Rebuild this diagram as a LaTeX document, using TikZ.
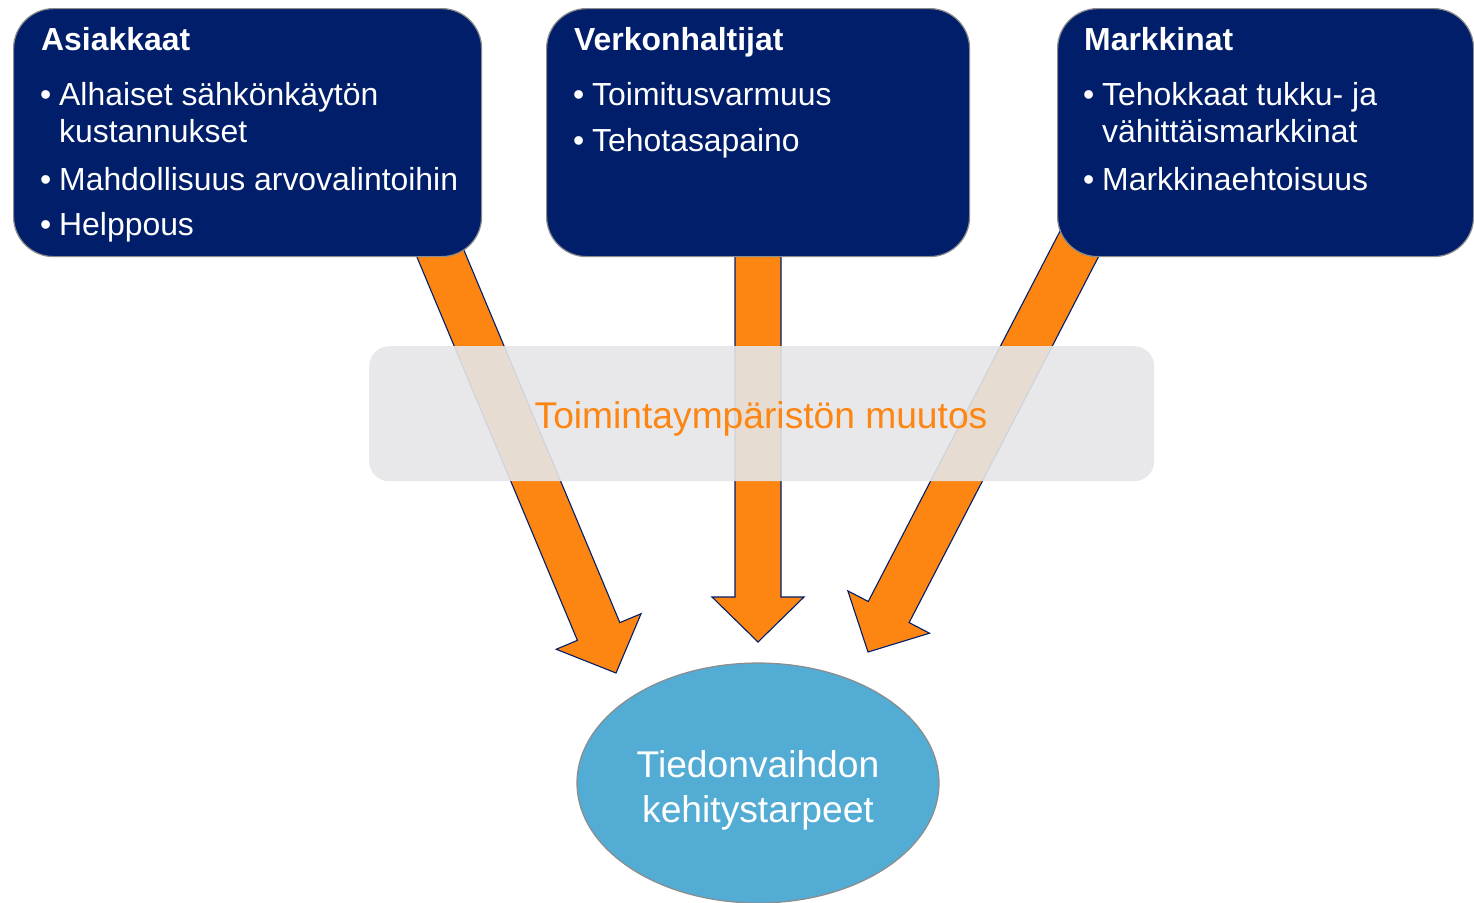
\documentclass[tikz,border=0pt]{standalone}
\usepackage{fontspec}
\setmainfont{Liberation Sans}
\usetikzlibrary{calc,shapes.geometric}

\definecolor{navy}{RGB}{1,30,106}
\definecolor{flowor}{RGB}{253,133,17}
\definecolor{bandgray}{RGB}{229,230,232}
\definecolor{sky}{RGB}{82,172,212}
\definecolor{edgegray}{RGB}{140,140,140}

\newcommand\boxfont{\fontsize{31.9pt}{38pt}\selectfont}
\newcommand\bigfont{\fontsize{37.2pt}{44pt}\selectfont}

% block arrow from #1 (start of shaft centre line) to #2 (tip)
\newcommand\blockarrow[2]{%
  \coordinate (hb) at ($(#2)!45pt!(#1)$);
  \draw[flow] ($(#1)!23pt!90:(#2)$) -- ($(hb)!23pt!90:(#2)$)
    -- ($(hb)!46pt!90:(#2)$) -- (#2) -- ($(hb)!46pt!-90:(#2)$)
    -- ($(hb)!23pt!-90:(#2)$) -- ($(#1)!23pt!-90:(#2)$) -- cycle;
}

\begin{document}
\begin{tikzpicture}[x=1pt,y=-1pt,
  panel/.style={draw=edgegray, line width=1.2pt, fill=navy,
    rounded corners=40pt, anchor=north west, inner sep=0pt},
  heading/.style={anchor=base west, inner sep=0pt, text=white, font=\boxfont\bfseries},
  item/.style={anchor=base west, inner sep=0pt, text=white, font=\boxfont},
  flow/.style={fill=flowor, draw=navy, line width=1.1pt, line join=miter},
  band/.style={fill=bandgray, fill opacity=0.9, draw=none, rounded corners=20pt,
    anchor=north west, inner sep=0pt},
  bigtext/.style={anchor=base, inner sep=0pt, font=\bigfont},
]
\clip (0,0) rectangle (1474,902);

% arrow end points
\coordinate (s1) at (418,200);  \coordinate (t1) at (616,673);
\coordinate (s2) at (758,200);  \coordinate (t2) at (758,642);
\coordinate (s3) at (1102,200); \coordinate (t3) at (868,652);

\blockarrow{s1}{t1}
\blockarrow{s2}{t2}
\blockarrow{s3}{t3}

% stakeholder panels
\node[panel, minimum width=468pt, minimum height=248pt] (asiakkaat) at (13,8) {};
\node[panel, minimum width=423pt, minimum height=248pt] (verkko) at (546,8) {};
\node[panel, minimum width=416pt, minimum height=248pt] (markkinat) at (1057,8) {};

% Asiakkaat
\node[heading] (h1) at (41,50) {Asiakkaat};
\node[item] (b11) at (40,105) {•};
\node[item] (t11) at (59,105) {Alhaiset sähkönkäytön};
\node[item] (t12) at (59,142) {kustannukset};
\node[item] (b12) at (40,190) {•};
\node[item] (t13) at (59,190) {Mahdollisuus arvovalintoihin};
\node[item] (b13) at (40,235) {•};
\node[item] (t14) at (59,235) {Helppous};

% Verkonhaltijat
\node[heading] (h2) at (574,50) {Verkonhaltijat};
\node[item] (b21) at (573,105) {•};
\node[item] (t21) at (592,105) {Toimitusvarmuus};
\node[item] (b22) at (573,151) {•};
\node[item] (t22) at (592,151) {Tehotasapaino};

% Markkinat
\node[heading] (h3) at (1084,50) {Markkinat};
\node[item] (b31) at (1083,105) {•};
\node[item] (t31) at (1102,105) {Tehokkaat tukku- ja};
\node[item] (t32) at (1102,142) {vähittäismarkkinat};
\node[item] (b32) at (1083,190) {•};
\node[item] (t33) at (1102,190) {Markkinaehtoisuus};

% change band
\node[band, minimum width=785pt, minimum height=135pt] (muutos) at (369,346) {};
\node[bigtext, text=flowor] (muutosteksti) at (761,428) {Toimintaympäristön muutos};

% target
\node[ellipse, draw=edgegray, line width=1.2pt, fill=sky, minimum width=362pt,
  minimum height=240pt, inner sep=0pt] (tarpeet) at (758,783) {};
\node[bigtext, text=white] (tt1) at (758,777) {Tiedonvaihdon};
\node[bigtext, text=white] (tt2) at (758,822) {kehitystarpeet};
\end{tikzpicture}
\end{document}
